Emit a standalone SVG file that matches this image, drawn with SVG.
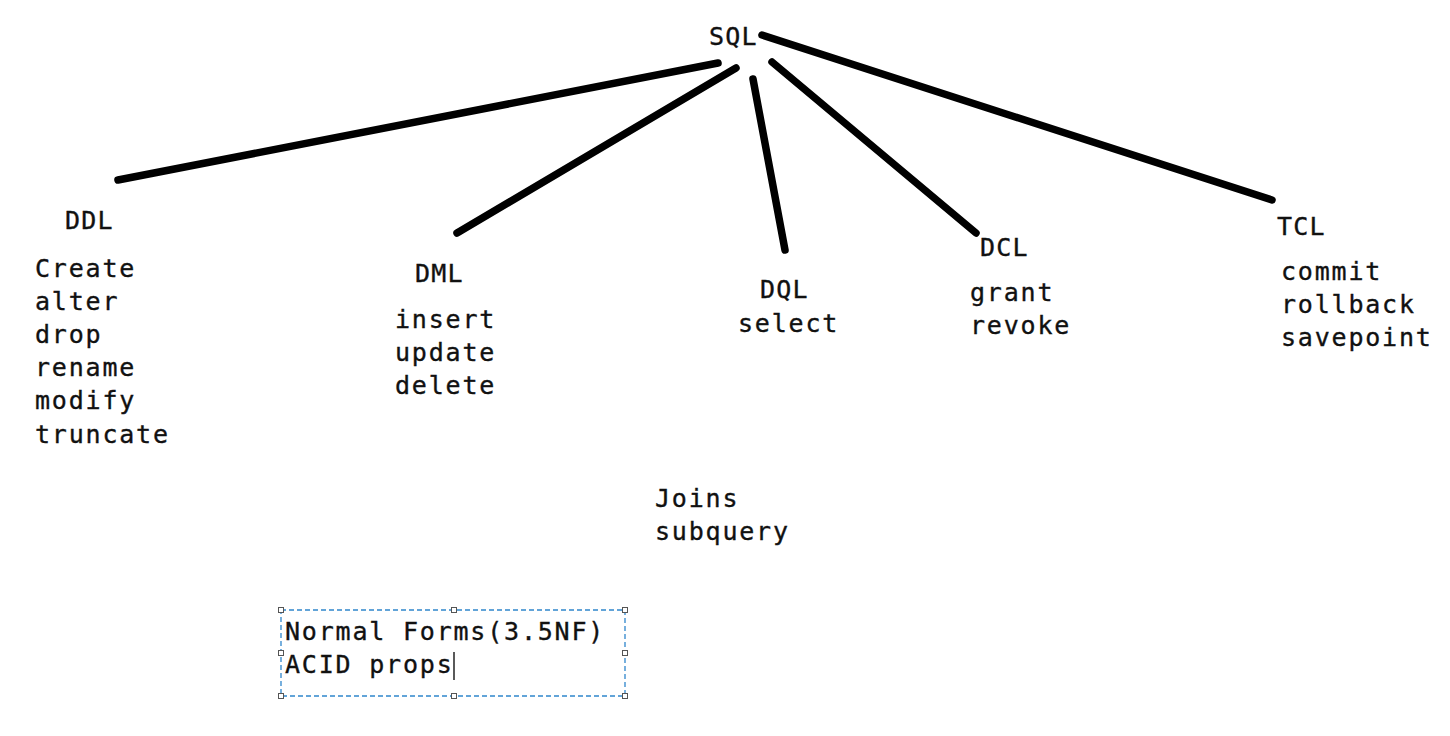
<svg xmlns="http://www.w3.org/2000/svg" width="1450" height="736" viewBox="0 0 1450 736">
<style>
text{font-family:"DejaVu Sans Mono","Liberation Mono",monospace;font-size:25px;letter-spacing:1.8px;fill:#111;stroke:#111;stroke-width:0.35}
.lbl{letter-spacing:1.2px}
.conn line{stroke:#000;stroke-width:7.5;stroke-linecap:round}
.sel{fill:none;stroke:#2f86cc;stroke-width:1.3;stroke-dasharray:5 3}
.h{fill:#fff;stroke:#555;stroke-width:1}
</style>
<rect width="1450" height="736" fill="#fff"/>
<g id="connectors" class="conn">
<line x1="118" y1="180" x2="718" y2="63"/>
<line x1="457" y1="233" x2="736" y2="68"/>
<line x1="753" y1="79" x2="785" y2="250"/>
<line x1="772" y1="62" x2="976" y2="233"/>
<line x1="762" y1="35" x2="1272" y2="200"/>
</g>
<g id="sql"><text class="lbl" x="709" y="45">SQL</text></g>
<g id="ddl">
<text class="lbl" x="65" y="229">DDL</text>
<text x="35" y="277">Create</text>
<text x="35" y="310">alter</text>
<text x="35" y="343">drop</text>
<text x="35" y="376">rename</text>
<text x="35" y="409">modify</text>
<text x="35" y="443">truncate</text>
</g>
<g id="dml">
<text class="lbl" x="415" y="282">DML</text>
<text x="395" y="328">insert</text>
<text x="395" y="361">update</text>
<text x="395" y="394">delete</text>
</g>
<g id="dql">
<text class="lbl" x="760" y="298">DQL</text>
<text x="738" y="332">select</text>
</g>
<g id="dcl">
<text class="lbl" x="980" y="256">DCL</text>
<text x="970" y="301">grant</text>
<text x="970" y="334">revoke</text>
</g>
<g id="tcl">
<text class="lbl" x="1277" y="235">TCL</text>
<text x="1281" y="280">commit</text>
<text x="1281" y="313">rollback</text>
<text x="1281" y="346">savepoint</text>
</g>
<g id="joins">
<text x="655" y="507">Joins</text>
<text x="655" y="540">subquery</text>
</g>
<g id="notes">
<rect class="sel" x="281" y="610" width="344" height="86"/>
<rect class="h" x="278.5" y="607.5" width="5" height="5"/>
<rect class="h" x="451.5" y="607.5" width="5" height="5"/>
<rect class="h" x="622.5" y="607.5" width="5" height="5"/>
<rect class="h" x="278.5" y="650.5" width="5" height="5"/>
<rect class="h" x="622.5" y="650.5" width="5" height="5"/>
<rect class="h" x="278.5" y="693.5" width="5" height="5"/>
<rect class="h" x="451.5" y="693.5" width="5" height="5"/>
<rect class="h" x="622.5" y="693.5" width="5" height="5"/>
<text x="285" y="640">Normal Forms(3.5NF)</text>
<text x="285" y="673">ACID props</text>
<line x1="454" y1="652" x2="454" y2="680" stroke="#000" stroke-width="1.3"/>
</g>
</svg>
